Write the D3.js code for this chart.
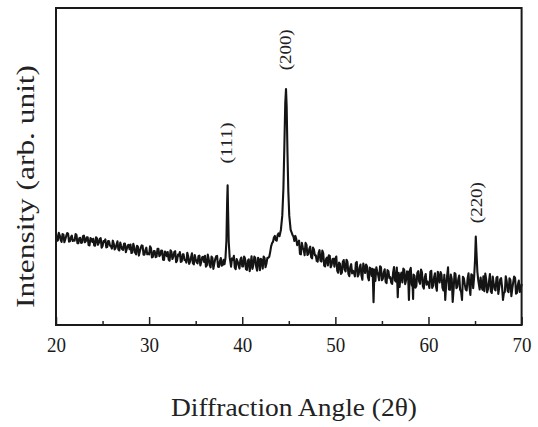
<!DOCTYPE html>
<html>
<head>
<meta charset="utf-8">
<script src="https://cdn.jsdelivr.net/npm/d3@7"></script>
<style>
html,body{margin:0;padding:0;background:#fff;}
svg{display:block;}
</style>
</head>
<body>
<svg id="chart" width="538" height="427"></svg>
<script>
// XRD scan (2theta in degrees, intensity in arb. units), one row per degree
const scan_angle=[
    20.0,20.1,20.2,20.3,20.4,20.5,20.6,20.7,20.8,20.9,
    21.0,21.1,21.2,21.3,21.4,21.5,21.6,21.7,21.8,21.9,
    22.0,22.1,22.2,22.3,22.4,22.5,22.6,22.7,22.8,22.9,
    23.0,23.1,23.2,23.3,23.4,23.5,23.6,23.7,23.8,23.9,
    24.0,24.1,24.2,24.3,24.4,24.5,24.6,24.7,24.8,24.9,
    25.0,25.1,25.2,25.3,25.4,25.5,25.6,25.7,25.8,25.9,
    26.0,26.1,26.2,26.3,26.4,26.5,26.6,26.7,26.8,26.9,
    27.0,27.1,27.2,27.3,27.4,27.5,27.6,27.7,27.8,27.9,
    28.0,28.1,28.2,28.3,28.4,28.5,28.6,28.7,28.8,28.9,
    29.0,29.1,29.2,29.3,29.4,29.5,29.6,29.7,29.8,29.9,
    30.0,30.1,30.2,30.3,30.4,30.5,30.6,30.7,30.8,30.9,
    31.0,31.1,31.2,31.3,31.4,31.5,31.6,31.7,31.8,31.9,
    32.0,32.1,32.2,32.3,32.4,32.5,32.6,32.7,32.8,32.9,
    33.0,33.1,33.2,33.3,33.4,33.5,33.6,33.7,33.8,33.9,
    34.0,34.1,34.2,34.3,34.4,34.5,34.6,34.7,34.8,34.9,
    35.0,35.1,35.2,35.3,35.4,35.5,35.6,35.7,35.8,35.9,
    36.0,36.1,36.2,36.3,36.4,36.5,36.6,36.7,36.8,36.9,
    37.0,37.1,37.2,37.3,37.4,37.5,37.6,37.7,37.8,37.9,
    38.0,38.1,38.2,38.3,38.38,38.43,38.48,38.55,38.65,38.8,38.9,
    39.0,39.1,39.2,39.3,39.4,39.5,39.6,39.7,39.8,39.9,
    40.0,40.1,40.2,40.3,40.4,40.5,40.6,40.7,40.8,40.9,
    41.0,41.1,41.2,41.3,41.4,41.5,41.6,41.7,41.8,41.9,
    42.0,42.1,42.2,42.3,42.4,42.5,42.6,42.7,42.8,42.9,
    43.0,43.1,43.2,43.3,43.4,43.5,43.6,43.7,43.8,43.9,
    44.0,44.15,44.3,44.42,44.52,44.62,44.7,44.77,44.86,44.95,
    45.05,45.2,45.3,45.4,45.5,45.6,45.7,45.8,45.9,
    46.0,46.1,46.2,46.3,46.4,46.5,46.6,46.7,46.8,46.9,
    47.0,47.1,47.2,47.3,47.4,47.5,47.6,47.7,47.8,47.9,
    48.0,48.1,48.2,48.3,48.4,48.5,48.6,48.7,48.8,48.9,
    49.0,49.1,49.2,49.3,49.4,49.5,49.6,49.7,49.8,49.9,
    50.0,50.1,50.2,50.3,50.4,50.5,50.6,50.7,50.8,50.9,
    51.0,51.1,51.2,51.3,51.4,51.5,51.6,51.7,51.8,51.9,
    52.0,52.1,52.2,52.3,52.4,52.5,52.6,52.7,52.8,52.9,
    53.0,53.1,53.2,53.3,53.4,53.5,53.6,53.7,53.8,53.9,
    54.0,54.1,54.2,54.3,54.4,54.5,54.6,54.7,54.8,54.9,
    55.0,55.1,55.2,55.3,55.4,55.5,55.6,55.7,55.8,55.9,
    56.0,56.1,56.2,56.3,56.4,56.5,56.6,56.7,56.8,56.9,
    57.0,57.1,57.2,57.3,57.4,57.5,57.6,57.7,57.8,57.9,
    58.0,58.1,58.2,58.3,58.35,58.4,58.5,58.6,58.7,58.8,58.9,
    59.0,59.1,59.2,59.3,59.4,59.5,59.6,59.7,59.8,59.9,
    60.0,60.1,60.2,60.3,60.4,60.5,60.6,60.7,60.8,60.9,
    61.0,61.1,61.2,61.3,61.4,61.5,61.6,61.7,61.8,61.9,
    62.0,62.1,62.2,62.3,62.4,62.5,62.6,62.7,62.8,62.9,
    63.0,63.1,63.2,63.3,63.4,63.5,63.6,63.7,63.8,63.9,
    64.0,64.1,64.2,64.3,64.4,64.5,64.6,64.7,64.8,64.9,
    65.0,65.08,65.15,65.25,65.35,65.5,65.6,65.7,65.8,65.9,
    66.0,66.1,66.2,66.3,66.4,66.5,66.6,66.7,66.8,66.9,
    67.0,67.1,67.2,67.3,67.4,67.5,67.6,67.7,67.8,67.9,
    68.0,68.1,68.2,68.3,68.4,68.5,68.6,68.7,68.8,68.9,
    69.0,69.1,69.2,69.3,69.4,69.5,69.6,69.7,69.8,69.9,
    70.0
];
const scan_intensity=[
    290,265,267,291,283,269,262,287,285,261,
    271,281,290,288,263,264,277,282,265,268,
    266,287,284,258,258,274,275,259,260,280,
    282,261,264,277,277,252,251,274,272,262,
    272,251,250,277,273,253,259,272,274,244,
    249,265,262,270,245,246,265,264,250,248,
    241,266,257,238,243,254,264,238,235,260,
    249,239,237,256,257,230,240,251,253,239,
    254,227,229,256,246,228,223,250,247,219,
    232,243,251,250,222,222,236,244,223,225,
    223,248,243,213,215,233,233,214,216,240,
    240,217,221,235,234,206,205,232,229,217,
    230,206,203,236,231,208,215,230,233,198,
    203,222,219,230,199,201,223,223,205,205,
    197,228,216,193,200,214,226,195,191,221,
    208,198,194,217,219,188,199,214,215,199,
    218,184,188,222,208,189,182,216,211,177,
    194,208,217,218,184,183,201,211,187,189,
    206,192,212,265,390,441,360,262,214,184,210,
    205,218,181,176,208,201,189,178,206,213,
    185,185,216,210,176,174,203,207,170,191,
    217,177,190,216,211,183,171,212,206,173,
    209,205,178,216,211,182,194,212,212,215,
    230,248,258,262,276,281,268,266,284,289,
    280,300,345,430,560,700,744,690,540,420,
    345,300,292,284,279,265,281,272,252,
    258,266,224,223,259,245,237,220,259,253,
    221,224,240,247,214,210,244,238,220,220,
    202,200,227,236,203,200,235,226,187,185,
    208,213,188,220,218,182,190,208,209,184,
    210,216,171,165,197,193,161,165,199,205,
    175,169,206,199,161,154,183,192,163,171,
    165,153,196,199,153,159,181,191,156,143,
    194,181,164,191,185,150,141,181,178,155,
    177,72,175,139,182,168,157,141,185,182,
    141,146,166,176,136,132,173,170,148,151,
    134,130,165,183,141,137,181,88,165,120,
    156,165,134,178,174,129,142,169,168,79,
    172,180,127,120,82,159,155,118,123,164,170,
    137,130,175,166,122,115,150,161,127,137,
    130,117,168,171,117,124,151,163,122,108,
    168,153,134,167,159,118,109,158,79,128,
    154,182,112,111,159,145,73,114,164,161,
    116,121,144,156,111,106,79,152,147,128,
    112,109,146,163,120,95,160,157,116,150,
    205,279,232,168,140,112,150,122,111,154,
    107,162,143,103,114,138,161,106,101,153,
    132,113,109,149,152,98,119,144,148,121,
    79,101,104,154,138,108,104,147,142,91,
    115,135,153,149,99,101,127,140,104,110,
    130
];
const x_major_ticks=[20,30,40,50,60,70];
const x_minor_ticks=[25,35,45,55,65];
const peak_labels=["(111)","(200)","(220)"];
const peak_label_angle=[38.34,44.67,65.1];
const peak_label_level=[574,868,386];
const x_title="Diffraction Angle (2\u03b8)";
const y_title="Intensity (arb. unit)";

const svg=d3.select("#chart");
const plot_left=56,plot_right=521.6,plot_top=8,plot_bottom=325;
const serif="'Liberation Serif'";

const x=d3.scaleLinear().domain([20,70]).range([plot_left,plot_right]);
const y=d3.scaleLinear().domain([0,1000]).range([plot_bottom,plot_top]);

// scan line
const line=d3.line()
    .x((d,i)=>x(scan_angle[i]))
    .y(d=>y(d));

svg.append("path")
    .datum(scan_intensity)
    .attr("d",line)
    .attr("fill","none")
    .attr("stroke","#141414")
    .attr("stroke-width",2.1)
    .attr("stroke-linejoin","round");

// bottom axis, ticks pointing inward
const x_axis=svg.append("g")
    .attr("transform","translate(0,"+plot_bottom+")")
    .call(d3.axisBottom(x).tickValues(x_major_ticks).tickSize(-8).tickPadding(11).tickFormat(d3.format("d")));
x_axis.attr("font-family",serif).attr("font-size",22);
x_axis.select(".domain").remove();
x_axis.selectAll(".tick line").attr("stroke","#222").attr("stroke-width",1.5);
x_axis.selectAll(".tick text")
    .attr("fill","#1a1a1a")
    .attr("textLength",19)
    .attr("lengthAdjust","spacingAndGlyphs");

const x_minor=svg.append("g")
    .attr("transform","translate(0,"+plot_bottom+")")
    .call(d3.axisBottom(x).tickValues(x_minor_ticks).tickSize(-4).tickFormat(""));
x_minor.select(".domain").remove();
x_minor.selectAll(".tick line").attr("stroke","#222").attr("stroke-width",1.5);

// frame
svg.append("rect")
    .attr("x",plot_left)
    .attr("y",plot_top)
    .attr("width",plot_right-plot_left)
    .attr("height",plot_bottom-plot_top)
    .attr("fill","none")
    .attr("stroke","#1a1a1a")
    .attr("stroke-width",2);

// peak labels
for (let i=0;i<peak_labels.length;i++){
    svg.append("text")
        .attr("transform","translate("+x(peak_label_angle[i])+","+y(peak_label_level[i])+") rotate(-90)")
        .attr("text-anchor","middle")
        .attr("dy","0.35em")
        .attr("font-family",serif)
        .attr("font-size",16)
        .attr("textLength",41)
        .attr("lengthAdjust","spacingAndGlyphs")
        .attr("fill","#222")
        .text(peak_labels[i]);
}

// axis titles
svg.append("text")
    .attr("x",294)
    .attr("y",416)
    .attr("text-anchor","middle")
    .attr("font-family",serif)
    .attr("font-size",25)
    .attr("textLength",246)
    .attr("lengthAdjust","spacingAndGlyphs")
    .attr("fill","#222")
    .text(x_title);

svg.append("text")
    .attr("transform","translate(25,186.5) rotate(-90)")
    .attr("text-anchor","middle")
    .attr("dy","0.35em")
    .attr("font-family",serif)
    .attr("font-size",25)
    .attr("textLength",243)
    .attr("lengthAdjust","spacingAndGlyphs")
    .attr("fill","#222")
    .text(y_title);
</script>
</body>
</html>
